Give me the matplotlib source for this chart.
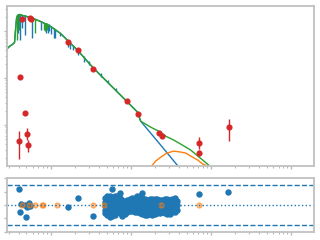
import numpy as np
import matplotlib
matplotlib.use('Agg')
import matplotlib.pyplot as plt

# model spectrum (blue), wavelength in micron, flux in erg/s/cm2/A
star_wl = [0.0290, 0.0307, 0.0335, 0.0355, 0.0365, 0.0376, 0.0387, 0.0410, 0.0447, 0.0562,
           0.0750, 0.100, 0.133, 0.163, 0.218, 0.335, 0.562, 0.891, 1.22, 1.33, 2.37, 3.98, 5.62]
star_flux = [4.35e-13, 4.80e-13, 5.29e-13, 5.83e-13, 1.05e-12, 1.89e-12, 2.19e-12, 2.30e-12, 2.19e-12, 1.99e-12,
             1.63e-12, 1.28e-12, 9.07e-13, 6.44e-13, 3.94e-13, 1.72e-13, 7.10e-14, 3.24e-14, 1.89e-14, 1.22e-14,
             3.75e-15, 1.28e-15, 6.13e-16]

# absorption lines in the blue model: wavelength, continuum, line core
star_line_wl = [0.0387, 0.0410, 0.0434, 0.0473, 0.0579, 0.0750, 0.0866, 0.0917, 0.0944, 0.100,
                0.109, 0.112, 0.133, 0.163, 0.173, 0.188, 0.218, 0.259, 0.299, 0.422, 0.516, 0.649]
star_line_top = [2.30e-12, 2.30e-12, 2.19e-12, 2.19e-12, 1.99e-12, 1.63e-12, 1.48e-12, 1.41e-12, 1.41e-12, 1.28e-12,
                 1.16e-12, 1.10e-12, 9.07e-13, 6.44e-13, 5.83e-13, 5.03e-13, 3.94e-13, 2.94e-13, 2.30e-13, 1.28e-13,
                 9.06e-14, 6.13e-14]
star_line_bot = [9.07e-13, 6.44e-13, 1.16e-12, 8.22e-13, 7.10e-13, 1.05e-12, 9.07e-13, 9.07e-13, 1.00e-12, 8.63e-13,
                 7.10e-13, 7.10e-13, 7.83e-13, 4.57e-13, 4.14e-13, 3.94e-13, 3.09e-13, 2.19e-13, 1.89e-13, 1.05e-13,
                 7.83e-14, 5.29e-14]

# dust component (orange)
dust_wl = [1.54, 1.78, 2.05, 2.37, 2.82, 3.45, 4.22, 4.87, 5.62, 6.88, 7.94, 9.66, 10.9]
dust_flux = [8.63e-16, 1.28e-15, 1.72e-15, 2.08e-15, 2.54e-15, 2.80e-15, 2.67e-15, 2.54e-15, 2.19e-15, 1.80e-15,
             1.48e-15, 1.28e-15, 8.63e-16]

# total model (green)
total_wl = [0.0290, 0.0307, 0.0335, 0.0355, 0.0365, 0.0376, 0.0387, 0.0410, 0.0447, 0.0562,
            0.0750, 0.100, 0.133, 0.163, 0.218, 0.335, 0.562, 0.891, 1.22, 1.33, 1.54, 1.78, 2.24,
            2.74, 3.45, 4.22, 5.62, 6.88, 7.94, 10.0, 11.5]
total_flux = [4.35e-13, 4.80e-13, 5.29e-13, 5.83e-13, 1.05e-12, 1.89e-12, 2.19e-12, 2.30e-12, 2.19e-12, 1.99e-12,
              1.63e-12, 1.28e-12, 9.07e-13, 6.44e-13, 3.94e-13, 1.72e-13, 7.10e-14, 3.24e-14, 1.89e-14, 1.22e-14,
              1.05e-14, 9.06e-15, 7.45e-15, 5.83e-15, 4.80e-15, 3.94e-15, 2.94e-15, 2.19e-15, 1.80e-15,
              1.28e-15, 1.00e-15]
total_line_wl = [0.0376, 0.0398, 0.0631, 0.0818, 0.0841, 0.0866, 0.0891]
total_line_top = [2.19e-12, 2.30e-12, 1.80e-12, 1.55e-12, 1.55e-12, 1.48e-12, 1.48e-12]
total_line_bot = [6.44e-13, 1.05e-12, 9.07e-13, 1.05e-12, 1.00e-12, 1.16e-12, 1.05e-12]

# photometry (red)
phot_wl = [0.0434, 0.0546, 0.0562, 0.163, 0.218, 0.335, 0.891, 1.22, 2.24, 2.44,
           7.08, 7.08, 16.8, 0.0410, 0.0473, 0.0501, 0.0516, 0.0398]
phot_flux = [1.80e-12, 1.89e-12, 1.80e-12, 5.83e-13, 3.94e-13, 1.55e-13, 3.24e-14, 1.71e-14, 6.76e-15, 5.83e-15,
             4.14e-15, 2.54e-15, 9.06e-15, 1.05e-13, 1.80e-14, 6.44e-15, 3.75e-15, 4.57e-15]
phot_lo = [1.72e-12, 1.81e-12, 1.72e-12, 5.60e-13, 3.78e-13, 1.49e-13, 3.11e-14, 1.64e-14, 6.49e-15, 5.60e-15,
           3.09e-15, 2.19e-15, 4.57e-15, 1.01e-13, 1.73e-14, 4.80e-15, 2.67e-15, 1.89e-15]
phot_hi = [1.88e-12, 1.97e-12, 1.88e-12, 6.06e-13, 4.10e-13, 1.61e-13, 3.37e-14, 1.78e-14, 7.03e-15, 6.06e-15,
           5.56e-15, 2.94e-15, 1.34e-14, 1.09e-13, 1.87e-14, 8.63e-15, 4.80e-15, 7.45e-15]

# residuals: spectrum points (blue cloud), columns of wavelength with residual values
cloud_wl = [0.473, 0.508, 0.546, 0.587, 0.631, 0.678, 0.729, 0.783, 0.841, 0.904,
            0.972, 1.044, 1.122, 1.206, 1.296, 1.393, 1.496, 1.608, 1.728, 1.857,
            1.995, 2.144, 2.304, 2.476, 2.661, 2.86, 3.073, 3.302, 3.548, 3.813]
cloud_res = [[1.0, 0.4, -0.2, -0.8, -1.2],
             [1.4, 0.8, 0.2, -0.5, -1.1, -1.5],
             [1.3, 0.7, 0.1, -0.6, -1.2, -1.8],
             [2.4, 1.2, 0.6, 0.0, -0.6, -1.3, -1.7],
             [1.35, 0.7, 0.1, -0.5, -1.0, -1.5],
             [1.3, 0.7, 0.1, -0.5, -1.1],
             [1.8, 1.1, 0.5, -0.1, -0.7, -1.2],
             [0.7, 0.1, -0.5, -1.1, -1.65],
             [0.4, -0.2, -0.8, -1.3],
             [0.7, 0.1, -0.5, -1.1],
             [0.9, 0.3, -0.3, -0.9],
             [1.0, 0.4, -0.2, -0.9],
             [1.1, 0.5, -0.1, -0.7, -1.0],
             [1.3, 0.7, 0.1, -0.5, -1.0],
             [1.3, 0.7, 0.0, -0.6, -1.2],
             [1.8, 1.0, 0.4, -0.2, -0.8, -1.3],
             [0.9, 0.3, -0.3, -0.9, -1.5],
             [0.8, 0.2, -0.4, -1.0, -1.5],
             [0.9, 0.3, -0.3, -0.9, -1.35],
             [0.9, 0.3, -0.3, -0.9, -1.5],
             [0.9, 0.3, -0.3, -1.0, -1.3],
             [0.9, 0.3, -0.4, -1.0, -1.2],
             [0.8, 0.2, -0.4, -1.0, -1.2],
             [0.8, 0.1, -0.5, -1.1],
             [0.9, 0.3, -0.3, -0.9, -1.2],
             [0.9, 0.3, -0.3, -0.9, -1.3],
             [0.8, 0.2, -0.4, -1.0, -1.35],
             [0.9, 0.2, -0.4, -1.1],
             [1.05, 0.4, -0.2, -0.8, -1.0],
             [0.6, 0.0, -0.7]]

# residuals: photometry
res_wl = [0.0398, 0.0422, 0.0473, 0.0501, 0.0531, 0.0547, 0.0410, 0.0487, 0.163, 0.218, 0.335, 7.08, 16.3]
res_val = [2.4, 0.15, 0.0, -0.3, 0.3, -0.15, -1.05, -1.8, -0.3, 1.05, -1.65, 1.65, 1.95]
excl_wl = [0.0434, 0.0531, 0.0631, 0.0772, 0.0794, 0.122, 0.335, 0.46, 2.37, 7.08]
excl_val = [0, 0, 0, 0, 0, 0, 0, 0, 0, 0]

fig = plt.figure(figsize=(3.2, 2.4), dpi=100)
ax1 = fig.add_axes([0.0234, 0.308, 0.958, 0.669])
ax2 = fig.add_axes([0.0234, 0.033, 0.958, 0.225])

ax1.plot(star_wl, star_flux, color='tab:blue', lw=1)
ax1.vlines(star_line_wl, star_line_bot, star_line_top, color='tab:blue', lw=1)
ax1.plot(dust_wl, dust_flux, color='tab:orange', lw=1)
ax1.plot(total_wl, total_flux, color='tab:green', lw=1)
ax1.vlines(total_line_wl, total_line_bot, total_line_top, color='tab:green', lw=1)

f = np.array(phot_flux)
yerr = [f - np.array(phot_lo), np.array(phot_hi) - f]
ax1.errorbar(phot_wl, phot_flux, yerr=yerr, fmt='o', color='tab:red', ms=3.4, lw=1, zorder=5)

ax1.set_xscale('log')
ax1.set_yscale('log')
ax1.set_xlim(0.0290, 193.9)
ax1.set_ylim(1.343e-15, 3.57e-12)

for wl, vals in zip(cloud_wl, cloud_res):
    ax2.plot([wl] * len(vals), vals, 'o', color='tab:blue', ms=3.6)
ax2.plot(res_wl, res_val, 'o', color='tab:blue', ms=3.6)
ax2.plot(excl_wl, excl_val, 'o', color='tab:orange', ms=3.6, alpha=0.5)
ax2.axhline(0, color='tab:blue', ls=':', lw=1)
ax2.axhline(3, color='tab:blue', ls='--', lw=1)
ax2.axhline(-3, color='tab:blue', ls='--', lw=1)
ax2.set_xscale('log')
ax2.set_xlim(0.0290, 193.9)
ax2.set_ylim(-4.05, 4.05)
ax2.set_yticks([-4, -2, 0, 2, 4])

for ax in (ax1, ax2):
    for s in ax.spines.values():
        s.set_color('#c0c0c0')
        s.set_linewidth(1.3)
    ax.tick_params(which='both', colors='#b8b8b8', labelbottom=False, labelleft=False)
    ax.tick_params(which='major', length=2.5, width=1)
    ax.tick_params(which='minor', length=1.5, width=0.8)

plt.savefig('out.png', dpi=100)
